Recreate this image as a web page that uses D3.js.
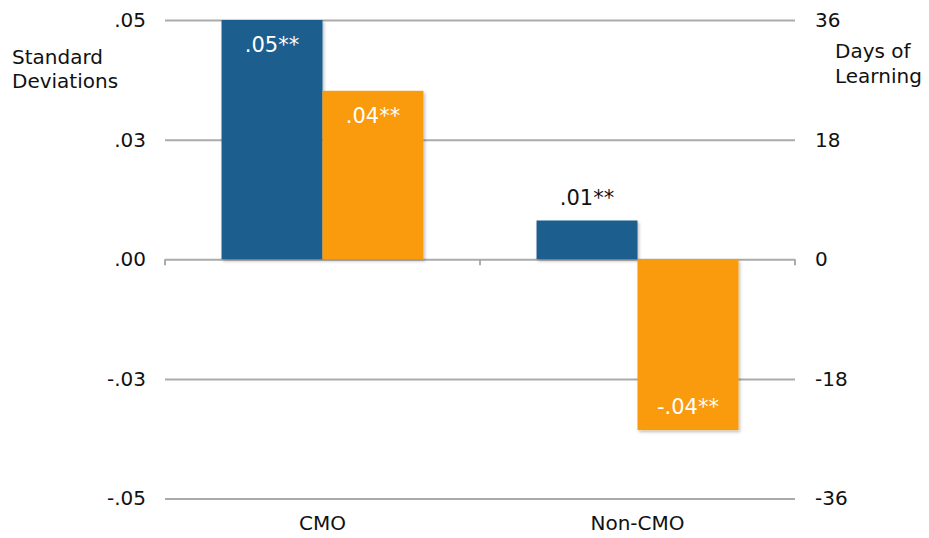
<!DOCTYPE html>
<html>
<head>
<meta charset="utf-8">
<script src="https://cdn.jsdelivr.net/npm/d3@7"></script>
<style>
  html, body { margin: 0; padding: 0; background: #fff; }
  svg { display: block; font-family: "DejaVu Sans", Verdana, sans-serif; }
</style>
</head>
<body>
<svg id="chart" width="929" height="538"></svg>
<script>
// ---- data ----
const categories = ["CMO", "Non-CMO"];
const series = ["Blue", "Orange"];
const blueValues = [0.05, 0.0081];
const orangeValues = [0.0352, -0.0357];
const blueLabels = [".05**", ".01**"];
const orangeLabels = [".04**", "-.04**"];
const leftTickValues = [-0.05, -0.025, 0, 0.025, 0.05];
const leftTickLabels = ["-.05", "-.03", ".00", ".03", ".05"];
const rightTickValues = [-36, -18, 0, 18, 36];
const rightTickLabels = ["-36", "-18", "0", "18", "36"];

const colors = { Blue: "#1D5E8E", Orange: "#FA9A0B" };

const svg = d3.select("#chart");
const plotLeft = 165, plotRight = 795, plotTop = 20, plotBottom = 498.5;

const y = d3.scaleLinear().domain([-0.05, 0.05]).range([plotBottom, plotTop]);
const y2 = d3.scaleLinear().domain([-36, 36]).range([plotBottom, plotTop]);
const x0 = d3.scaleBand().domain(categories).range([plotLeft, plotRight]).padding(0);
const x1 = d3.scaleBand().domain(series).range([0, x0.bandwidth()])
  .paddingInner(0).paddingOuter(0.56);

// shadow filter
const defs = svg.append("defs");
const f = defs.append("filter").attr("id", "shadow")
  .attr("x", "-10%").attr("y", "-10%").attr("width", "130%").attr("height", "130%");
f.append("feDropShadow").attr("dx", 1.5).attr("dy", 2).attr("stdDeviation", 1.5)
  .attr("flood-color", "#000").attr("flood-opacity", 0.25);

// gridlines via left axis
const gridAxis = d3.axisLeft(y).tickValues(leftTickValues)
  .tickSize(-(plotRight - plotLeft)).tickFormat((d, i) => leftTickLabels[i]).tickPadding(19);
const gL = svg.append("g").attr("transform", `translate(${plotLeft},0)`).call(gridAxis);
gL.select(".domain").remove();
gL.selectAll(".tick line").attr("stroke", "#ababab").attr("stroke-width", 2);
gL.selectAll(".tick text").attr("fill", "#111").attr("font-size", 20)
  .attr("font-family", "DejaVu Sans, Verdana, sans-serif");

// right axis labels
const rAxis = d3.axisRight(y2).tickValues(rightTickValues)
  .tickSize(0).tickPadding(20).tickFormat((d, i) => rightTickLabels[i]);
const gR = svg.append("g").attr("transform", `translate(${plotRight},0)`).call(rAxis);
gR.select(".domain").remove();
gR.selectAll(".tick text").attr("fill", "#111").attr("font-size", 20)
  .attr("font-family", "DejaVu Sans, Verdana, sans-serif");

// category tick marks on zero line
const boundaries = [plotLeft].concat(categories.map(c => x0(c) + x0.bandwidth()));
svg.append("g").selectAll("line").data(boundaries).join("line")
  .attr("x1", d => d).attr("x2", d => d)
  .attr("y1", y(0)).attr("y2", y(0) + 6)
  .attr("stroke", "#ababab").attr("stroke-width", 2);

// bars
const rows = categories.map((c, i) => ({
  cat: c,
  items: [
    { s: "Blue", v: blueValues[i], label: blueLabels[i] },
    { s: "Orange", v: orangeValues[i], label: orangeLabels[i] }
  ]
}));

const groups = svg.append("g").selectAll("g").data(rows).join("g")
  .attr("transform", d => `translate(${x0(d.cat)},0)`);

groups.selectAll("rect").data(d => d.items).join("rect")
  .attr("x", d => x1(d.s))
  .attr("width", x1.bandwidth())
  .attr("y", d => y(Math.max(0, d.v)))
  .attr("height", d => Math.abs(y(d.v) - y(0)))
  .attr("fill", d => colors[d.s])
  .attr("filter", "url(#shadow)");

// bar labels
groups.selectAll("text.vl").data(d => d.items).join("text")
  .attr("class", "vl")
  .attr("x", d => x1(d.s) + x1.bandwidth() / 2)
  .attr("y", d => {
    const h = Math.abs(y(d.v) - y(0));
    if (d.v >= 0) return h > 40 ? y(d.v) + 32 : y(d.v) - 15;
    return y(d.v) - 16;
  })
  .attr("text-anchor", "middle")
  .attr("font-size", 21)
  .attr("fill", d => (d.v >= 0 && Math.abs(y(d.v) - y(0)) <= 40) ? "#111" : "#fff")
  .text(d => d.label);

// category labels
svg.append("g").selectAll("text").data(categories).join("text")
  .attr("x", d => x0(d) + x0.bandwidth() / 2)
  .attr("y", 530)
  .attr("text-anchor", "middle")
  .attr("font-size", 20)
  .attr("fill", "#111")
  .text(d => d);

// axis titles
const lt = svg.append("text").attr("font-size", 20).attr("fill", "#111");
lt.append("tspan").attr("x", 12).attr("y", 64).text("Standard");
lt.append("tspan").attr("x", 12).attr("y", 88).text("Deviations");
const rt = svg.append("text").attr("font-size", 20).attr("fill", "#111");
rt.append("tspan").attr("x", 835).attr("y", 58).text("Days of");
rt.append("tspan").attr("x", 835).attr("y", 83).text("Learning");
</script>
</body>
</html>
